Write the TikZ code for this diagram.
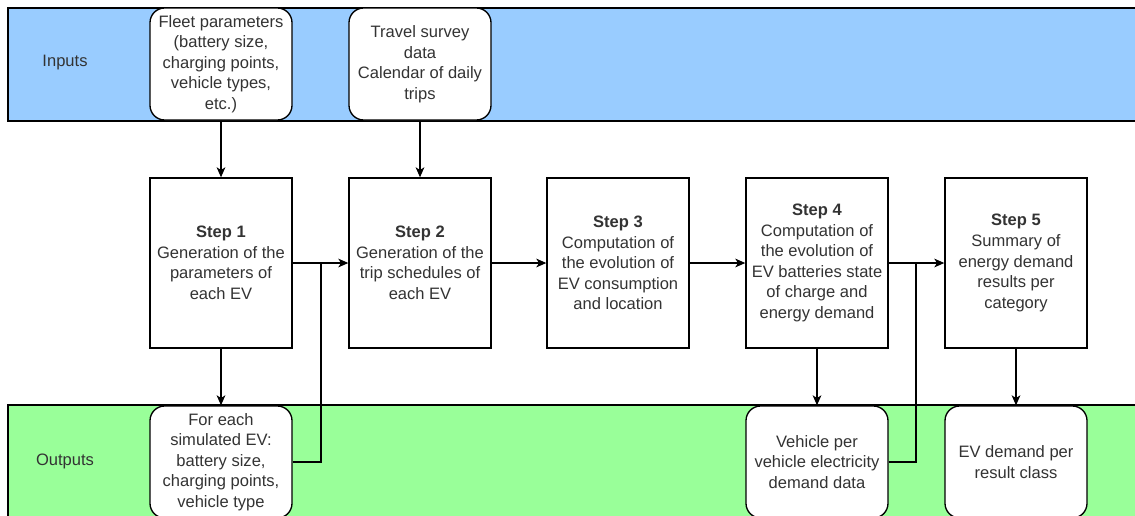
\documentclass[tikz,border=0pt]{standalone}
\usepackage{fontspec}
\setmainfont{Liberation Sans}
\usetikzlibrary{arrows.meta}
\definecolor{bandblue}{HTML}{99CCFF}
\definecolor{bandgreen}{HTML}{99FF99}
\definecolor{txt}{HTML}{333333}
\tikzset{
  every node/.style={font=\fontsize{12.4}{15.4}\selectfont, text=txt},
  stepbox/.style={draw=black, fill=white, line width=1pt, minimum width=106.5pt, minimum height=127.5pt, align=center, inner sep=1pt},
  iobox/.style={draw=black, fill=white, line width=1pt, rounded corners=11pt, minimum width=106.5pt, minimum height=84pt, align=center, inner sep=1pt},
  band/.style={draw=black, line width=1pt},
  link/.style={draw=black, line width=1pt},
  arr/.style={link, -{Stealth[length=7.5pt, width=6.5pt, inset=2pt]}}
}
\begin{document}
\begin{tikzpicture}[x=0.75pt, y=-0.75pt]
\clip (0,0) rectangle (1135,515);
\useasboundingbox (0,0) rectangle (1135,515);
\fill[white] (0,0) rectangle (1135,515);
% bands
\path[band, fill=bandblue] (8,8) rectangle (1150,121);
\path[band, fill=bandgreen] (8,405) rectangle (1150,530);
\node (lin) at (65,63) {Inputs};
\node (lout) at (65,461) {Outputs};
% inputs
\node[iobox] (in1) at (221,64) {Fleet parameters\\(battery size,\\charging points,\\vehicle types,\\etc.)};
\node[iobox] (in2) at (420,64) {Travel survey\\data\\Calendar of daily\\trips};
% steps
\node[stepbox] (s1) at (221,263) {\textbf{Step 1}\\Generation of the\\parameters of\\each EV};
\node[stepbox] (s2) at (420,263) {\textbf{Step 2}\\Generation of the\\trip schedules of\\each EV};
\node[stepbox] (s3) at (618,263) {\textbf{Step 3}\\Computation of\\the evolution of\\EV consumption\\and location};
\node[stepbox] (s4) at (817,263) {\textbf{Step 4}\\Computation of\\the evolution of\\EV batteries state\\of charge and\\energy demand};
\node[stepbox] (s5) at (1016,263) {\textbf{Step 5}\\Summary of\\energy demand\\results per\\category};
% outputs
\node[iobox] (o1) at (221,462) {For each\\simulated EV:\\battery size,\\charging points,\\vehicle type};
\node[iobox] (o4) at (817,462) {Vehicle per\\vehicle electricity\\demand data};
\node[iobox] (o5) at (1016,462) {EV demand per\\result class};
% junctions
\coordinate (j1) at (321,263);
\coordinate (j4) at (916,263);
% arrows
\draw[arr] (in1) -- (s1);
\draw[arr] (in2) -- (s2);
\draw[arr] (s1) -- (s2);
\draw[arr] (s2) -- (s3);
\draw[arr] (s3) -- (s4);
\draw[arr] (s4) -- (s5);
\draw[arr] (s1) -- (o1);
\draw[arr] (s4) -- (o4);
\draw[arr] (s5) -- (o5);
\draw[link] (o1.east) -| (j1);
\draw[link] (o4.east) -| (j4);
\end{tikzpicture}
\end{document}
